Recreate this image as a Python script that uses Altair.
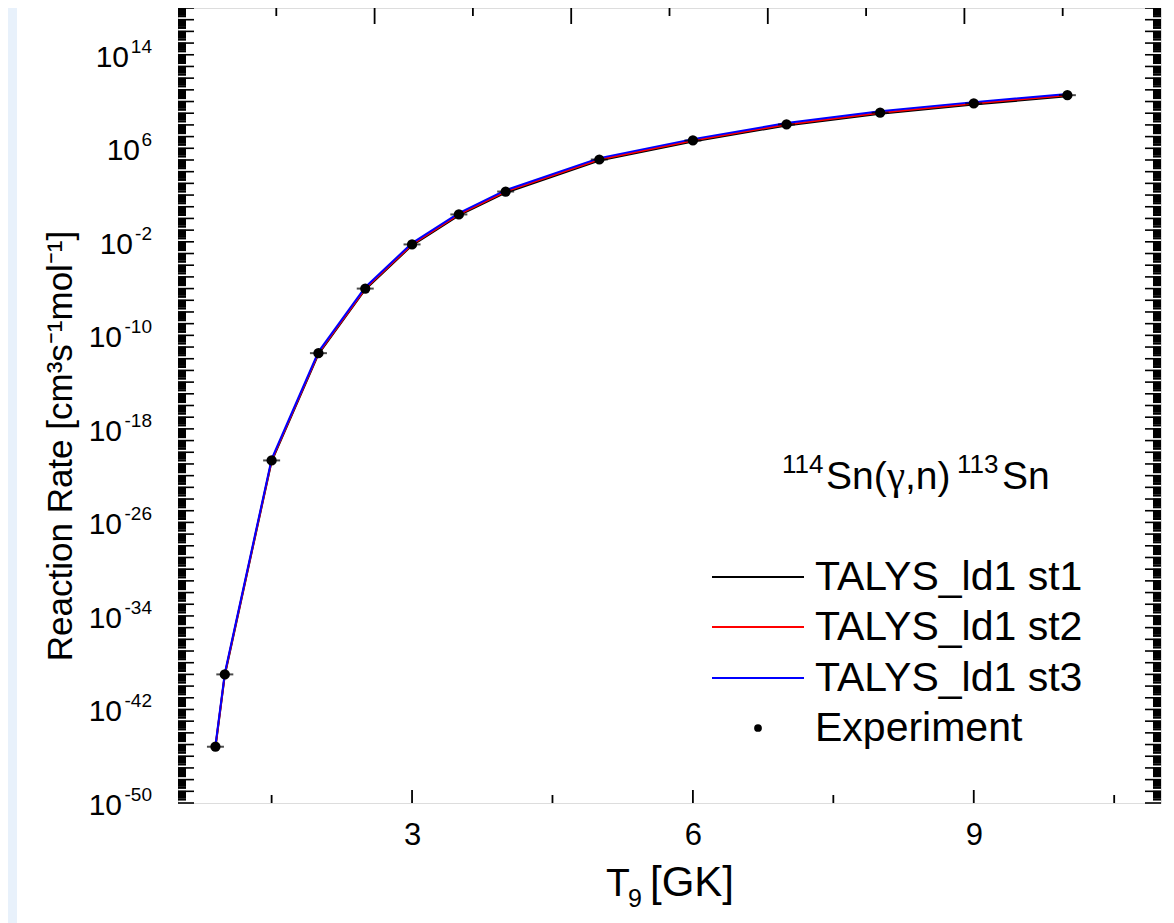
import altair as alt
import pandas as pd

# ---------------- data ----------------
T9 = [0.9, 1.0, 1.5, 2.0, 2.5, 3.0, 3.5, 4.0, 5.0, 6.0, 7.0, 8.0, 9.0, 10.0]
rate_st1 = [5.5e-46, 0.85e-39, 1.7e-21, 2.5e-12, 0.85e-6, 5.0e-3, 1.8, 1.6e2, 0.9e5, 3.8e6, 0.9e8, 0.9e9, 5.5e9, 2.8e10]
rate_st2 = [6.5e-46, 1.0e-39, 2.0e-21, 3.0e-12, 1.0e-6, 6.0e-3, 2.2, 2.0e2, 1.1e5, 4.7e6, 1.1e8, 1.1e9, 6.8e9, 3.5e10]
rate_st3 = [8.5e-46, 1.3e-39, 2.6e-21, 3.9e-12, 1.3e-6, 7.8e-3, 2.9, 2.6e2, 1.45e5, 6.1e6, 1.45e8, 1.45e9, 8.9e9, 4.5e10]
rate_exp = [6.5e-46, 1.0e-39, 2.0e-21, 3.0e-12, 1.0e-6, 6.0e-3, 2.2, 2.0e2, 1.1e5, 4.7e6, 1.1e8, 1.1e9, 6.8e9, 3.5e10]

series_names = ["TALYS_ld1 st1", "TALYS_ld1 st2", "TALYS_ld1 st3"]
series_colors = ["#000000", "#ff0000", "#0000ff"]
exp_name = "Experiment"

x_tick_labels = [3, 6, 9]
x_minor_ticks = [1.5, 4.5, 7.5, 10.5]
y_label_exps = [14, 6, -2, -10, -18, -26, -34, -42, -50]
top_tick_vals = [1.55, 2.6, 3.65, 4.7, 5.75, 6.8, 7.85, 8.9, 9.95]

# ---------------- layout ----------------
W, H = 983, 795
FONT = "Liberation Sans"
xs = alt.Scale(domain=[0.5, 11], nice=False, zero=False)
ys = alt.Scale(type="log", domain=[1e-50, 1e18], nice=False)

lines_df = pd.DataFrame({
    "T9": T9 * 3,
    "rate": rate_st1 + rate_st2 + rate_st3,
    "series": [series_names[0]] * len(T9) + [series_names[1]] * len(T9) + [series_names[2]] * len(T9),
})
exp_df = pd.DataFrame({"T9": T9, "rate": rate_exp})

one = pd.DataFrame({"a": [0]})

layers = []

# left light strip of the slide background
layers.append(alt.Chart(one).mark_rect(color="#e8f1fb").encode(
    x=alt.value(-170), x2=alt.value(-161), y=alt.value(-10), y2=alt.value(H + 120)))

# theory lines
layers.append(alt.Chart(lines_df).mark_line(strokeWidth=2).encode(
    x=alt.X("T9:Q", scale=xs, axis=alt.Axis(values=x_tick_labels, format="d", title=None, grid=False,
                                            ticks=False, domain=False, labelFontSize=31, labelPadding=17,
                                            labelColor="black", labelFont=FONT)),
    y=alt.Y("rate:Q", scale=ys, axis=None),
    color=alt.Color("series:N", scale=alt.Scale(domain=series_names, range=series_colors), legend=None),
))

# experiment points with small horizontal bars
layers.append(alt.Chart(exp_df).mark_tick(orient="horizontal", color="black", size=17, thickness=2).encode(
    x=alt.X("T9:Q", scale=xs), y=alt.Y("rate:Q", scale=ys)))
layers.append(alt.Chart(exp_df).mark_point(filled=True, shape="circle", color="black", opacity=1, size=105).encode(
    x=alt.X("T9:Q", scale=xs), y=alt.Y("rate:Q", scale=ys)))

# y ticks (inward, both sides)
major_y = pd.DataFrame({"v": [10.0 ** k for k in range(-50, 19)]})
minor_y = pd.DataFrame({"v": [m * 10.0 ** k for k in range(-50, 18) for m in range(2, 10)]})
for df, ln, sw in [(major_y, 16, 1.6), (minor_y, 8, 2.2)]:
    layers.append(alt.Chart(df).mark_rule(color="black", strokeWidth=sw).encode(
        y=alt.Y("v:Q", scale=ys), x=alt.value(0), x2=alt.value(ln)))
    layers.append(alt.Chart(df).mark_rule(color="black", strokeWidth=sw).encode(
        y=alt.Y("v:Q", scale=ys), x=alt.value(W), x2=alt.value(W - ln)))

# x ticks bottom
layers.append(alt.Chart(pd.DataFrame({"v": x_tick_labels})).mark_rule(color="black", strokeWidth=1.8).encode(
    x=alt.X("v:Q", scale=xs), y=alt.value(H), y2=alt.value(H - 13)))
layers.append(alt.Chart(pd.DataFrame({"v": x_minor_ticks})).mark_rule(color="black", strokeWidth=1.8).encode(
    x=alt.X("v:Q", scale=xs), y=alt.value(H), y2=alt.value(H - 8)))
# x ticks top
top_df = pd.DataFrame({"v": top_tick_vals, "long": [i % 2 == 1 for i in range(len(top_tick_vals))]})
layers.append(alt.Chart(top_df).transform_filter("datum.long").mark_rule(color="black", strokeWidth=1.8).encode(
    x=alt.X("v:Q", scale=xs), y=alt.value(0), y2=alt.value(16)))
layers.append(alt.Chart(top_df).transform_filter("!datum.long").mark_rule(color="black", strokeWidth=1.8).encode(
    x=alt.X("v:Q", scale=xs), y=alt.value(0), y2=alt.value(8)))

# y tick labels 10^k
LAB_R = -26


def exp_width(s):
    return sum(11.0 if c.isdigit() else 7.0 for c in s)


lab_df = pd.DataFrame({"e": y_label_exps, "s": [str(e) for e in y_label_exps],
                       "v": [10.0 ** e for e in y_label_exps]})
lab_df["w"] = lab_df["s"].map(exp_width)
layers.append(alt.Chart(lab_df).mark_text(align="right", baseline="middle", fontSize=19, font=FONT,
                                          color="black", dy=-8).encode(
    x=alt.value(LAB_R), y=alt.Y("v:Q", scale=ys), text="s:N"))
for w in sorted(lab_df["w"].unique()):
    sub = lab_df[lab_df["w"] == w]
    layers.append(alt.Chart(sub).mark_text(align="right", baseline="middle", fontSize=30, font=FONT,
                                           color="black", dy=3).encode(
        x=alt.value(LAB_R - w - 1), y=alt.Y("v:Q", scale=ys), text=alt.value("10")))

# y axis title
layers.append(alt.Chart(pd.DataFrame({"t": ["Reaction Rate [cm³s⁻¹mol⁻¹]"]})).mark_text(
    angle=270, align="center", baseline="alphabetic", fontSize=35, font=FONT, color="black").encode(
    x=alt.value(-106), y=alt.value(438), text="t:N"))

# x axis title T_9 [GK]
for txt, xp, yp, fs in [("T", 428, 888, 39), ("9", 450, 899, 25), ("[GK]", 472, 888, 42)]:
    layers.append(alt.Chart(one).mark_text(align="left", baseline="alphabetic", fontSize=fs, font=FONT,
                                           color="black").encode(
        x=alt.value(xp), y=alt.value(yp), text=alt.value(txt)))

# reaction annotation  114Sn(γ,n)113Sn
for txt, xp, yp, fs, fnt in [("114", 604, 465, 26, FONT), ("Sn(", 648, 481, 39, FONT),
                             ("γ", 709, 481, 41, "Liberation Serif"), (",n)", 727, 481, 39, FONT),
                             ("113", 779, 465, 26, FONT), ("Sn", 824, 481, 39, FONT)]:
    layers.append(alt.Chart(one).mark_text(align="left", baseline="alphabetic", fontSize=fs, font=fnt,
                                           color="black").encode(
        x=alt.value(xp), y=alt.value(yp), text=alt.value(txt)))

# legend
rows_y = [569, 619, 670, 720]
for name, col, ry in zip(series_names, series_colors, rows_y[:3]):
    layers.append(alt.Chart(one).mark_rule(color=col, strokeWidth=2).encode(
        x=alt.value(534), x2=alt.value(626), y=alt.value(ry)))
for name, ry in zip(series_names + [exp_name], rows_y):
    layers.append(alt.Chart(one).mark_text(align="left", baseline="middle", fontSize=41, font=FONT,
                                           color="black", dy=1).encode(
        x=alt.value(637), y=alt.value(ry), text=alt.value(name)))
layers.append(alt.Chart(one).mark_point(filled=True, shape="circle", color="black", opacity=1, size=60).encode(
    x=alt.value(580), y=alt.value(rows_y[3])))

chart = alt.layer(*layers).properties(
    width=W, height=H,
    padding={"left": 170, "top": 0, "right": 5, "bottom": 120},
    autosize=alt.AutoSizeParams(type="none"),
).configure_view(stroke="black", strokeWidth=2.5).configure(background="white")

chart.save("out.html", embed_options={"renderer": "svg", "actions": False})
